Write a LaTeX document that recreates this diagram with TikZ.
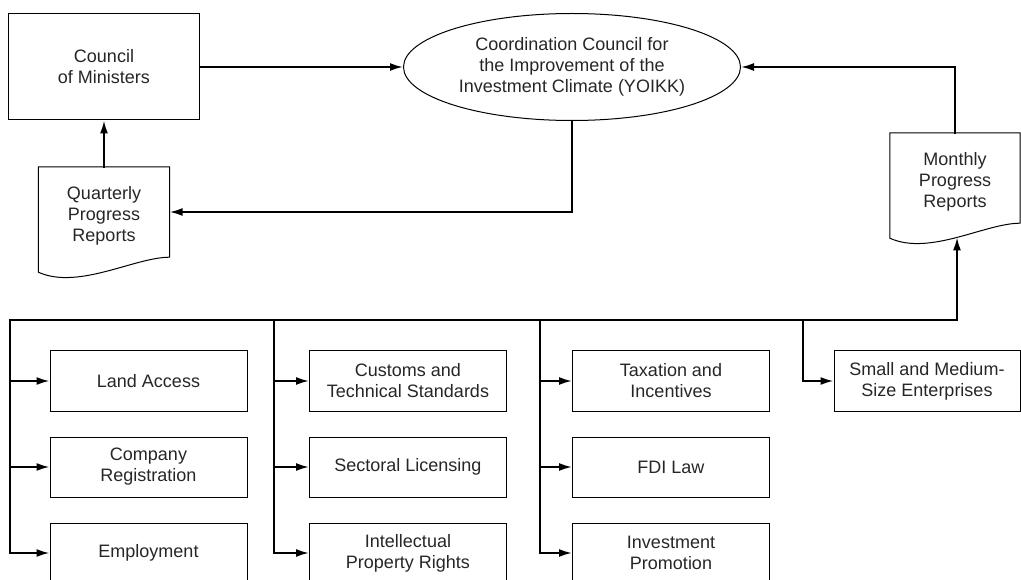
\documentclass[tikz,border=0pt]{standalone}
\usepackage{fontspec}
\setmainfont{Liberation Sans}
\usetikzlibrary{shapes}
\usetikzlibrary{arrows.meta}

\begin{document}
\begin{tikzpicture}[x=1pt,y=-1pt,
	font=\fontsize{18}{21}\selectfont, text=black!85,
	box/.style={draw,line width=1pt,minimum width=197pt,minimum height=60pt,inner sep=0pt,align=center},
	doc/.style={minimum width=131pt,minimum height=98pt,inner sep=0pt,align=center},
	link/.style={line width=1.8pt,line cap=rect},
	arr/.style={link,-{Latex[length=13pt,width=8pt]}}]
	\useasboundingbox (0,0) rectangle (1021,580);
	% top part
	\node[box,minimum width=191pt,minimum height=106pt] (council) at (104,67) {Council\\of Ministers};
	\node[ellipse,draw,line width=1pt,minimum width=337pt,minimum height=107pt,inner sep=0pt,align=center] (yoikk) at (572,67)
		{Coordination Council for\\the Improvement of the\\Investment Climate (YOIKK)};
	\node[doc] (quarterly) at (104,216) {Quarterly\\Progress\\Reports};
	\node[doc,minimum width=130pt] (monthly) at (955,182) {Monthly\\Progress\\Reports};
	\foreach \n in {quarterly,monthly}
		\draw[line width=1pt] (\n.north west) -- (\n.north east) -- ([yshift=8pt]\n.south east)
			.. controls +(-35,0) and +(40,18) .. ([yshift=-7pt]\n.south west) coordinate[pos=0.5] (\n-bot) -- cycle;
	% working groups
	\node[box] (land) at (148.5,381) {Land Access};
	\node[box] (company) at (148.5,467) {Company\\Registration};
	\node[box] (employ) at (148.5,553) {Employment};
	\node[box] (customs) at (408,381) {Customs and\\Technical Standards};
	\node[box] (licensing) at (408,467) {Sectoral Licensing};
	\node[box] (ipr) at (408,553) {Intellectual\\Property Rights};
	\node[box] (taxation) at (671,381) {Taxation and\\Incentives};
	\node[box] (fdi) at (671,467) {FDI Law};
	\node[box] (promotion) at (671,553) {Investment\\Promotion};
	\node[box,minimum width=186pt] (sme) at (927,381) {Small and Medium-\\Size Enterprises};
	\coordinate (b1) at (10,320);
	\coordinate (b2) at (274,320);
	\coordinate (b3) at (540,320);
	\coordinate (b4) at (803,320);
	\coordinate (b5) at (957,320);
	% connectors
	\draw[arr] (council) -- (yoikk);
	\draw[arr] (quarterly.north) -- (council.south);
	\draw[arr] (yoikk.south) |- ([yshift=4pt]quarterly.east);
	\draw[arr] (monthly.north) |- (yoikk.east);
	\draw[link] (b1) -- (b5);
	\draw[arr] (b5) -- (b5 |- monthly-bot);
	\foreach \b/\n in {b1/land,b1/company,b1/employ,b2/customs,b2/licensing,b2/ipr,b3/taxation,b3/fdi,b3/promotion,b4/sme}
		\draw[arr] (\b) |- (\n.west);
\end{tikzpicture}
\end{document}
